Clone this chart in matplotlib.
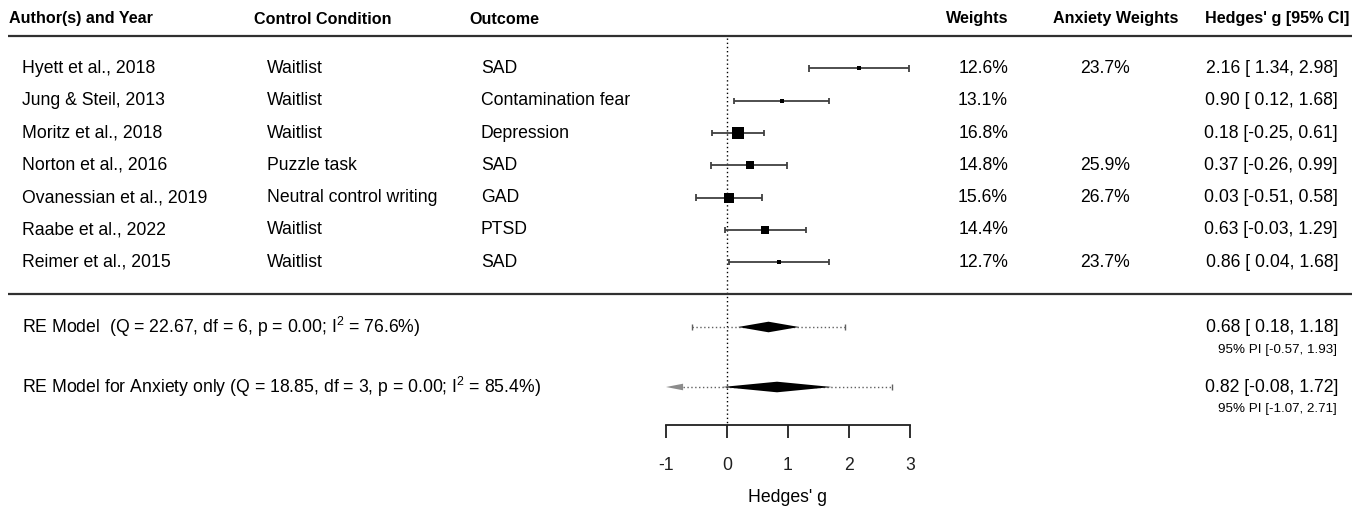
import matplotlib
matplotlib.use("Agg")
import matplotlib.pyplot as plt
import matplotlib.transforms as mtransforms

plt.rcParams['font.family'] = ['Liberation Sans', 'DejaVu Sans']
plt.rcParams['mathtext.fontset'] = 'custom'
plt.rcParams['mathtext.rm'] = 'Liberation Sans'
plt.rcParams['mathtext.it'] = 'Liberation Sans:italic'
plt.rcParams['mathtext.bf'] = 'Liberation Sans:bold'

# ---------------- data ----------------
authors = ["Hyett et al., 2018", "Jung & Steil, 2013", "Moritz et al., 2018",
           "Norton et al., 2016", "Ovanessian et al., 2019", "Raabe et al., 2022",
           "Reimer et al., 2015"]
controls = ["Waitlist", "Waitlist", "Waitlist", "Puzzle task",
            "Neutral control writing", "Waitlist", "Waitlist"]
outcomes = ["SAD", "Contamination fear", "Depression", "SAD", "GAD", "PTSD", "SAD"]
weights = [12.6, 13.1, 16.8, 14.8, 15.6, 14.4, 12.7]
anx_weights = [23.7, None, None, 25.9, 26.7, None, 23.7]
g = [2.16, 0.90, 0.18, 0.37, 0.03, 0.63, 0.86]
ci_lo = [1.34, 0.12, -0.25, -0.26, -0.51, -0.03, 0.04]
ci_hi = [2.98, 1.68, 0.61, 0.99, 0.58, 1.29, 1.68]

model_labels = ["RE Model  (Q = 22.67, df = 6, p = 0.00; $\\mathregular{I^2}$ = 76.6%)",
                "RE Model for Anxiety only (Q = 18.85, df = 3, p = 0.00; $\\mathregular{I^2}$ = 85.4%)"]
model_est = [0.68, 0.82]
model_lo = [0.18, -0.08]
model_hi = [1.18, 1.72]
model_pi_lo = [-0.57, -1.07]
model_pi_hi = [1.93, 2.71]

headers = ["Author(s) and Year", "Control Condition", "Outcome",
           "Weights", "Anxiety Weights", "Hedges' g [95% CI]"]
xticks = [-1, 0, 1, 2, 3]
xlabel = "Hedges' g"

# ---------------- layout ----------------
W, H = 1357, 511
fig = plt.figure(figsize=(W / 100, H / 100), dpi=100)
ax = fig.add_axes([0, 0, 1, 1])
X0, PPU = 727.0, 61.0  # pixel of zero, pixels per unit
ax.set_xlim((0 - X0) / PPU, (W - X0) / PPU)
ax.set_ylim(H, 0)
for s in ['top', 'left', 'right']:
    ax.spines[s].set_visible(False)
ax.set_yticks([])

tr = mtransforms.blended_transform_factory(fig.transFigure, ax.transData)
def fx(px):
    return px / W

FS = 12.7
HFS = 11.6
row_y = [68.5 + 32.3 * i for i in range(len(authors))]
model_y = [327, 387]
pi_off = [23, 22]
axis_y = 425
alim = (xticks[0], xticks[-1])

# headers
hdr_y = 19
ax.text(fx(9), hdr_y, headers[0], transform=tr, ha='left', va='center', fontsize=HFS, fontweight='bold')
ax.text(fx(254), hdr_y, headers[1], transform=tr, ha='left', va='center', fontsize=HFS, fontweight='bold')
ax.text(fx(469), hdr_y, headers[2], transform=tr, ha='left', va='center', fontsize=HFS, fontweight='bold')
ax.text(fx(1008), hdr_y, headers[3], transform=tr, ha='right', va='center', fontsize=HFS, fontweight='bold')
ax.text(fx(1178), hdr_y, headers[4], transform=tr, ha='right', va='center', fontsize=HFS, fontweight='bold')
ax.text(fx(1349), hdr_y, headers[5], transform=tr, ha='right', va='center', fontsize=HFS, fontweight='bold')

# horizontal rules
for yy in [36, 294]:
    ax.plot([fx(8), fx(1352)], [yy, yy], transform=tr, color='#303030', lw=1.6, solid_capstyle='butt')

# zero line
ax.vlines(0, 38, axis_y, colors='black', linestyles=(0, (1, 2)), lw=1, zorder=1)

# studies
wmin, wmax = min(weights), max(weights)
cap = 3.2
for i in range(len(authors)):
    y = row_y[i]
    ax.text(fx(22), y, authors[i], transform=tr, ha='left', va='center', fontsize=FS)
    ax.text(fx(267), y, controls[i], transform=tr, ha='left', va='center', fontsize=FS)
    ax.text(fx(481), y, outcomes[i], transform=tr, ha='left', va='center', fontsize=FS)
    ax.text(fx(1008), y, f"{weights[i]:.1f}%", transform=tr, ha='right', va='center', fontsize=FS)
    if anx_weights[i] is not None:
        ax.text(fx(1130), y, f"{anx_weights[i]:.1f}%", transform=tr, ha='right', va='center', fontsize=FS)
    ax.text(fx(1338), y, f"{g[i]:.2f} [{ci_lo[i]:5.2f}, {ci_hi[i]:.2f}]",
            transform=tr, ha='right', va='center', fontsize=FS)
    ax.hlines(y, ci_lo[i], ci_hi[i], colors='#404040', lw=1.3, zorder=3)
    ax.vlines([ci_lo[i], ci_hi[i]], y - cap, y + cap, colors='#404040', lw=1.3, zorder=3)
    size_px = 4 + 8 * (weights[i] - wmin) / (wmax - wmin)
    ax.plot(g[i], y, marker='s', color='black', markersize=size_px * 0.72, mec='black', mew=0, zorder=4)

# models
dh = 5.3
arrow_len = 0.28
for k in range(2):
    y = model_y[k]
    ax.text(fx(22), y, model_labels[k], transform=tr, ha='left', va='center', fontsize=FS)
    ax.text(fx(1338), y, f"{model_est[k]:.2f} [{model_lo[k]:5.2f}, {model_hi[k]:.2f}]",
            transform=tr, ha='right', va='center', fontsize=FS)
    ax.text(fx(1337), y + pi_off[k], f"95% PI [{model_pi_lo[k]:.2f}, {model_pi_hi[k]:.2f}]",
            transform=tr, ha='right', va='center', fontsize=9.6)
    plo, phi = model_pi_lo[k], model_pi_hi[k]
    left = plo
    if plo < alim[0]:
        left = alim[0] + arrow_len
        ax.fill([alim[0], left, left], [y, y - 3.3, y + 3.3], color='#8c8c8c', lw=0, zorder=3)
    else:
        ax.vlines(plo, y - 3, y + 3, colors='#606060', lw=1, zorder=3)
    ax.hlines(y, left, phi, colors='#606060', linestyles=(0, (1, 1.8)), lw=1, zorder=3)
    ax.vlines(phi, y - 3, y + 3, colors='#606060', lw=1, zorder=3)
    ax.fill([model_lo[k], model_est[k], model_hi[k], model_est[k]],
            [y, y - dh, y, y + dh], color='black', lw=0, zorder=4)

# x axis
ax.spines['bottom'].set_position(('data', axis_y))
ax.spines['bottom'].set_bounds(alim[0], alim[1])
ax.spines['bottom'].set_linewidth(1.3)
ax.spines['bottom'].set_color('#202020')
ax.set_xticks(xticks)
ax.set_xticklabels([str(t) for t in xticks])
ax.tick_params(axis='x', direction='out', length=9.5, width=1.3, pad=13.5, labelsize=FS, colors='#202020')
ax.text(1, 497, xlabel, ha='center', va='center', fontsize=FS)

fig.savefig("out.png", dpi=100)
